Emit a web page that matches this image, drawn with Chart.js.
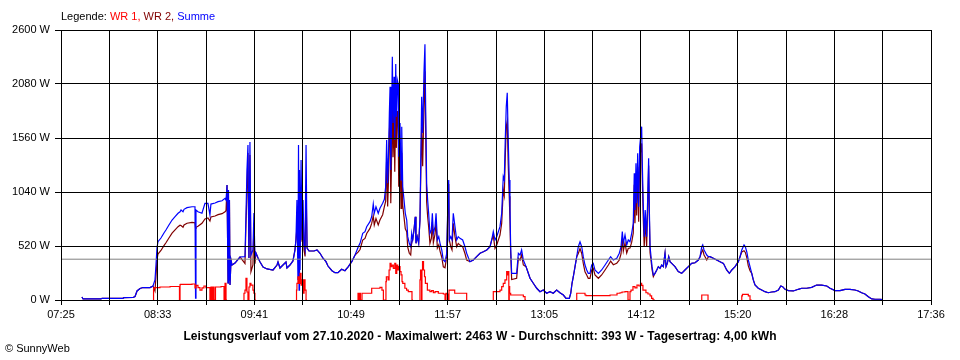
<!DOCTYPE html>
<html><head><meta charset="utf-8">
<script src="https://cdn.jsdelivr.net/npm/chart.js@4.4.1/dist/chart.umd.min.js"></script>
<style>
html,body{margin:0;padding:0;background:#fff;}
#wrap{position:relative;width:960px;height:360px;overflow:hidden;font-family:"Liberation Sans",Arial,sans-serif;color:#000;}
canvas{position:absolute;left:0;top:0;}
.legend{position:absolute;left:61px;top:10px;font-size:11px;line-height:13px;white-space:nowrap;}
.title{position:absolute;left:0;width:960px;top:329px;text-align:center;font-size:12px;letter-spacing:0.1px;font-weight:bold;line-height:14px;white-space:nowrap;}
.copy{position:absolute;left:5px;top:342px;font-size:11px;line-height:13px;}
</style></head>
<body><div id="wrap"><canvas id="c" width="960" height="360"></canvas>
<div class="legend">Legende: <span style="color:#ff0000">WR 1,</span> <span style="color:#800000">WR 2,</span> <span style="color:#0000ff">Summe</span></div>
<div class="title">Leistungsverlauf vom 27.10.2020 - Maximalwert: 2463 W - Durchschnitt: 393 W - Tagesertrag: 4,00 kWh</div>
<div class="copy">© SunnyWeb</div>
</div>
<script>
// x tick labels (every second grid line), time axis in minutes since midnight
const tickLabels = ['07:25','08:33','09:41','10:49','11:57','13:05','14:12','15:20','16:28','17:36'];
const xMin = 445, xMax = 1056;
const yTicks = [0, 520, 1040, 1560, 2080, 2600];
const average = 393;

// sample times (minutes) shared by Summe and WR 2
const times = [
459.7,460.5,473.1,473.8,488.5,489.2,495.6,497.0,498.4,500.5,
502.6,507.5,509.6,511.0,511.7,512.4,513.1,515.2,517.3,518.7,
520.8,523.0,525.1,527.2,528.6,529.3,530.7,531.4,533.5,537.0,
539.1,539.5,539.8,541.2,544.0,546.1,548.2,549.6,550.3,553.2,
555.3,558.1,560.2,560.9,561.6,562.3,562.6,563.0,563.3,563.7,
564.4,565.1,567.2,570.7,574.2,574.9,575.6,576.3,577.0,577.7,
578.4,579.8,580.5,581.2,581.9,583.4,584.8,586.9,589.7,593.9,
596.7,597.4,598.8,600.9,603.0,603.7,605.8,607.9,609.3,610.0,
610.7,611.4,611.8,612.2,612.5,612.9,613.6,614.3,615.0,615.7,
616.4,617.1,617.8,619.2,622.7,624.8,626.9,629.0,631.1,632.5,
635.3,637.4,639.5,642.1,644.4,646.8,649.2,651.5,653.8,655.0,
656.9,658.5,659.7,662.0,663.2,664.3,665.0,666.2,667.8,669.0,
670.9,672.1,673.0,673.7,674.4,674.9,675.6,676.1,676.6,677.0,
677.7,678.2,678.9,679.4,680.1,680.5,681.2,681.7,682.2,683.1,
683.8,684.3,685.0,685.9,686.8,687.8,688.5,689.6,690.6,691.3,
692.0,692.9,693.8,694.3,695.2,696.2,697.1,698.3,699.0,699.9,
700.6,701.1,701.8,702.5,703.2,704.1,705.1,705.8,706.5,707.7,
708.4,709.3,710.3,711.2,712.4,713.5,714.7,715.9,716.6,717.3,
717.7,718.7,719.6,720.5,721.7,722.9,724.0,725.2,727.1,728.7,
729.9,732.2,734.6,736.9,739.3,741.6,744.0,746.3,747.5,748.6,
749.8,751.0,753.3,754.5,755.6,756.3,757.0,757.7,758.4,759.1,
759.8,760.3,760.8,761.5,765.0,766.2,767.4,768.5,769.7,771.6,
773.2,774.4,776.7,779.1,781.4,783.7,786.1,788.4,790.7,793.1,
795.4,797.8,799.7,802.0,803.0,803.9,804.8,806.0,807.2,808.3,
809.5,810.7,811.8,813.0,814.2,815.3,816.5,817.7,818.8,820.0,
822.4,824.7,827.1,829.4,831.0,832.9,835.3,837.1,838.3,839.2,
839.9,841.1,842.3,843.4,844.6,845.8,846.9,847.6,848.1,848.8,
849.3,850.0,850.7,851.4,852.1,852.8,853.2,853.9,854.6,855.3,
856.3,857.0,857.7,858.2,858.7,859.4,860.1,861.0,862.2,863.4,
864.5,865.7,866.9,868.0,869.2,869.9,870.8,871.8,872.7,873.9,
876.2,878.5,880.9,883.2,885.6,887.9,890.3,892.6,893.8,895.0,
895.7,896.6,897.3,898.5,899.7,900.8,903.1,905.5,907.8,910.2,
912.5,914.4,916.1,918.4,920.7,921.9,923.1,924.7,925.6,926.6,
927.7,928.9,930.1,931.2,932.4,934.7,937.1,939.4,941.7,944.1,
946.4,948.8,950.5,951.8,953.5,955.8,959.3,962.8,965.2,968.7,
972.2,975.7,979.2,982.8,985.1,988.6,992.1,995.6,999.1,1002.6,
1004.9,1007.3,1009.6,1012.0,1014.4,1016.7,1020.2,1022.1
];

// Summe (W)
const summe = [
29,10,10,16,16,22,24,34,87,111,
120,120,135,193,337,501,561,597,645,674,
722,770,802,835,850,867,850,873,889,898,
898,19,867,850,835,931,931,819,924,934,
947,956,979,963,1107,164,1059,193,963,144,
385,337,356,414,417,819,1252,1493,404,1522,
433,482,838,414,453,404,366,318,299,289,
337,366,308,337,366,308,337,376,481,578,
963,193,1493,96,1252,289,1348,578,963,530,
482,1493,501,472,472,482,450,402,369,327,
282,263,263,296,282,321,369,433,513,546,
642,658,706,754,802,924,835,898,835,883,
931,970,1091,1541,1124,1319,1801,2054,1252,1573,
2343,1705,2150,1541,2273,1765,2119,2087,1380,1705,
1156,1669,1091,963,835,770,610,546,513,642,
578,674,802,546,610,546,770,1958,1608,2186,
2463,1861,1124,963,835,642,674,835,642,706,
835,578,610,546,482,385,369,450,883,1156,
578,610,578,835,706,578,610,594,578,513,
450,369,385,417,450,465,482,513,578,658,
578,610,706,835,1187,1156,1541,1861,1996,1541,
1156,898,513,257,257,450,433,482,385,321,
257,209,161,113,80,96,65,80,65,96,
70,48,16,16,65,161,224,321,417,513,
561,513,417,337,289,257,257,337,353,289,
257,289,337,385,417,385,402,450,513,658,
546,626,530,578,561,642,739,1220,867,1316,
931,1413,898,1476,1573,1669,1348,931,610,867,
610,963,1365,867,513,417,321,241,257,289,
321,305,337,321,450,321,353,417,369,353,
321,273,257,289,321,353,359,385,417,513,
530,482,465,433,417,417,402,385,369,353,
289,257,289,321,369,417,482,530,513,465,
385,321,257,193,144,113,96,80,70,77,
80,96,135,128,103,90,87,103,113,113,
122,144,144,135,113,90,90,103,103,96,
87,70,58,32,10,7,7,3
];

// WR 2 (W)
const wr2 = [
29,10,10,16,16,22,24,34,87,111,
120,120,135,87,227,386,443,477,523,551,
597,644,675,706,720,718,700,723,739,747,
744,690,700,710,739,780,790,760,800,809,
822,831,850,860,1107,164,1059,193,963,144,
385,337,356,414,352,723,1043,1416,404,1397,
272,338,742,349,453,404,366,318,299,289,
337,366,308,337,366,308,337,376,481,578,
700,520,900,480,850,500,950,560,760,480,
420,1100,501,472,472,482,450,402,369,327,
282,263,263,296,282,321,369,433,463,486,
577,593,641,689,737,811,722,785,722,770,
821,900,950,1365,900,1110,1608,1765,932,1220,
2022,1375,1830,1236,1920,1465,1819,1767,1091,1384,
883,1419,915,798,685,657,510,450,433,562,
578,674,802,546,610,546,770,1669,1288,1856,
2203,1637,944,802,705,546,594,750,552,636,
760,500,530,471,412,320,311,420,823,1116,
578,514,482,739,610,513,545,529,513,448,
385,369,385,417,450,465,482,513,578,618,
498,530,626,739,1059,1006,1371,1671,1723,1300,
1000,770,448,197,209,402,385,434,337,321,
257,209,161,113,80,96,65,80,65,96,
70,48,16,16,65,161,224,321,417,448,
496,448,352,272,241,209,209,289,305,241,
209,241,289,337,374,340,354,385,443,588,
471,549,452,498,500,557,643,1110,739,1196,
815,1283,754,1336,1438,1508,1198,791,510,771,
514,883,1295,807,455,377,291,225,257,289,
321,305,337,321,450,321,353,417,369,353,
321,273,257,289,321,353,359,385,417,465,
482,434,417,385,417,417,402,385,369,353,
289,257,289,321,369,417,462,475,458,410,
330,282,257,193,144,113,96,80,70,77,
80,96,135,128,103,90,87,103,113,113,
122,144,144,135,113,90,90,103,103,96,
87,70,58,32,10,7,7,3
];

// WR 1 (W), own sample times; null = inverter not reporting
const wr1Times = [
510.0,510.3,514.5,521.6,528.2,528.6,528.9,537.0,539.1,539.8,541.2,542.6,544.0,545.4,546.8,549.6,550.3,551.0,551.7,552.5,553.5,553.9,557.4,559.5,560.2,560.9,561.6,
567.0,
573.5,574.2,574.9,575.6,576.3,577.0,577.7,578.4,579.8,580.5,581.2,581.9,
595.0,
610.4,610.7,611.4,612.2,612.9,613.6,614.3,615.0,615.7,616.4,617.1,617.8,
635.0,
653.6,654.0,654.7,655.3,656.4,658.1,663.2,663.4,669.0,670.4,671.4,671.8,673.2,673.5,674.7,675.4,676.1,676.8,677.5,678.4,679.4,680.1,680.8,681.5,682.2,683.1,683.8,684.5,685.0,686.5,687.7,688.9,690.1,691.5,692.2,
694.0,
697.1,697.5,698.2,698.5,698.9,699.6,700.3,700.9,702.3,704.1,705.3,706.5,707.7,710.0,713.5,714.7,715.4,716.1,716.8,717.5,718.7,721.5,721.9,729.9,730.1,
740.0,
748.6,748.8,753.3,754.5,755.6,756.8,758.0,758.4,758.9,759.5,759.8,760.1,760.8,762.7,769.7,770.9,771.6,
790.0,
807.2,807.4,813.0,813.7,830.6,835.5,837.6,839.0,841.1,843.2,844.6,845.3,846.7,848.1,849.5,850.9,852.0,852.8,853.7,854.8,855.8,857.2,858.7,859.8,860.8,862.2,
880.0,
895.0,895.2,899.4,899.6,
910.0,
923.1,923.6,924.7,927.7,928.9,930.1
];
const wr1 = [
0,106,120,125,130,0,149,151,154,116,140,120,96,116,135,120,0,125,0,125,0,125,125,130,0,161,0,
null,
0,65,96,209,77,0,125,161,144,96,65,0,
null,
0,96,161,224,161,257,144,193,67,193,96,0,
null,
0,63,0,65,0,65,65,113,113,122,96,0,0,176,224,193,289,353,321,337,305,353,257,337,289,321,273,241,176,161,113,96,80,80,0,
null,
0,193,289,0,289,369,289,224,161,96,80,90,70,80,65,58,0,65,58,0,96,96,65,65,0,
null,
0,80,80,96,128,161,193,273,241,273,0,128,65,48,48,32,0,
null,
0,65,65,48,43,48,65,70,77,80,0,80,96,128,116,144,135,161,140,96,96,70,58,39,16,0,
null,
0,48,48,0,
null,
0,39,55,55,39,0
];

const FONT = '"Liberation Sans", Arial, sans-serif';
const pts = (ts, vs) => ts.map((t, i) => ({x: t, y: vs[i]}));
const gridTimes = [];
for (let i = 0; i <= 18; i++) gridTimes.push(xMin + i * (xMax - xMin) / 18);

new Chart(document.getElementById('c'), {
  type: 'line',
  data: {
    datasets: [
      {label: 'Durchschnitt', data: [{x: xMin, y: average}, {x: xMax, y: average}], borderColor: '#808080', borderWidth: 1, pointRadius: 0},
      {label: 'WR 1', data: pts(wr1Times, wr1), borderColor: '#ff0000', borderWidth: 1.2, pointRadius: 0, stepped: 'after', spanGaps: false},
      {label: 'Summe', data: pts(times, summe), borderColor: '#0000ff', borderWidth: 1.2, pointRadius: 0, tension: 0},
      {label: 'WR 2', data: pts(times, wr2), borderColor: '#800000', borderWidth: 1.2, pointRadius: 0, tension: 0}
    ]
  },
  options: {
    responsive: false,
    animation: false,
    devicePixelRatio: 1,
    layout: {padding: {left: 0, right: 29, top: 30, bottom: 0}},
    plugins: {legend: {display: false}, title: {display: false}, tooltip: {enabled: false}},
    events: [],
    scales: {
      x: {
        type: 'linear', min: xMin, max: xMax,
        afterBuildTicks: s => { s.ticks = gridTimes.map(v => ({value: v})); },
        afterFit: s => { s.height = 60; },
        grid: {color: '#000', lineWidth: 1, drawTicks: true, tickLength: 5, tickColor: '#000', z: 1},
        border: {color: '#000', width: 1, z: 1},
        ticks: {autoSkip: false, maxRotation: 0, minRotation: 0, padding: 3, color: '#000', font: {family: FONT, size: 11},
          callback: (v, i) => (i % 2 === 0 ? tickLabels[i / 2] : '')}
      },
      y: {
        min: 0, max: 2600,
        afterBuildTicks: s => { s.ticks = yTicks.map(v => ({value: v})); },
        afterFit: s => { s.width = 61; },
        grid: {color: '#000', lineWidth: 1, drawTicks: true, tickLength: 6, tickColor: '#000', z: 1},
        border: {color: '#000', width: 1, z: 1},
        ticks: {padding: 5, color: '#000', font: {family: FONT, size: 11}, callback: v => v + ' W'}
      }
    }
  }
});
</script>
</body></html>
